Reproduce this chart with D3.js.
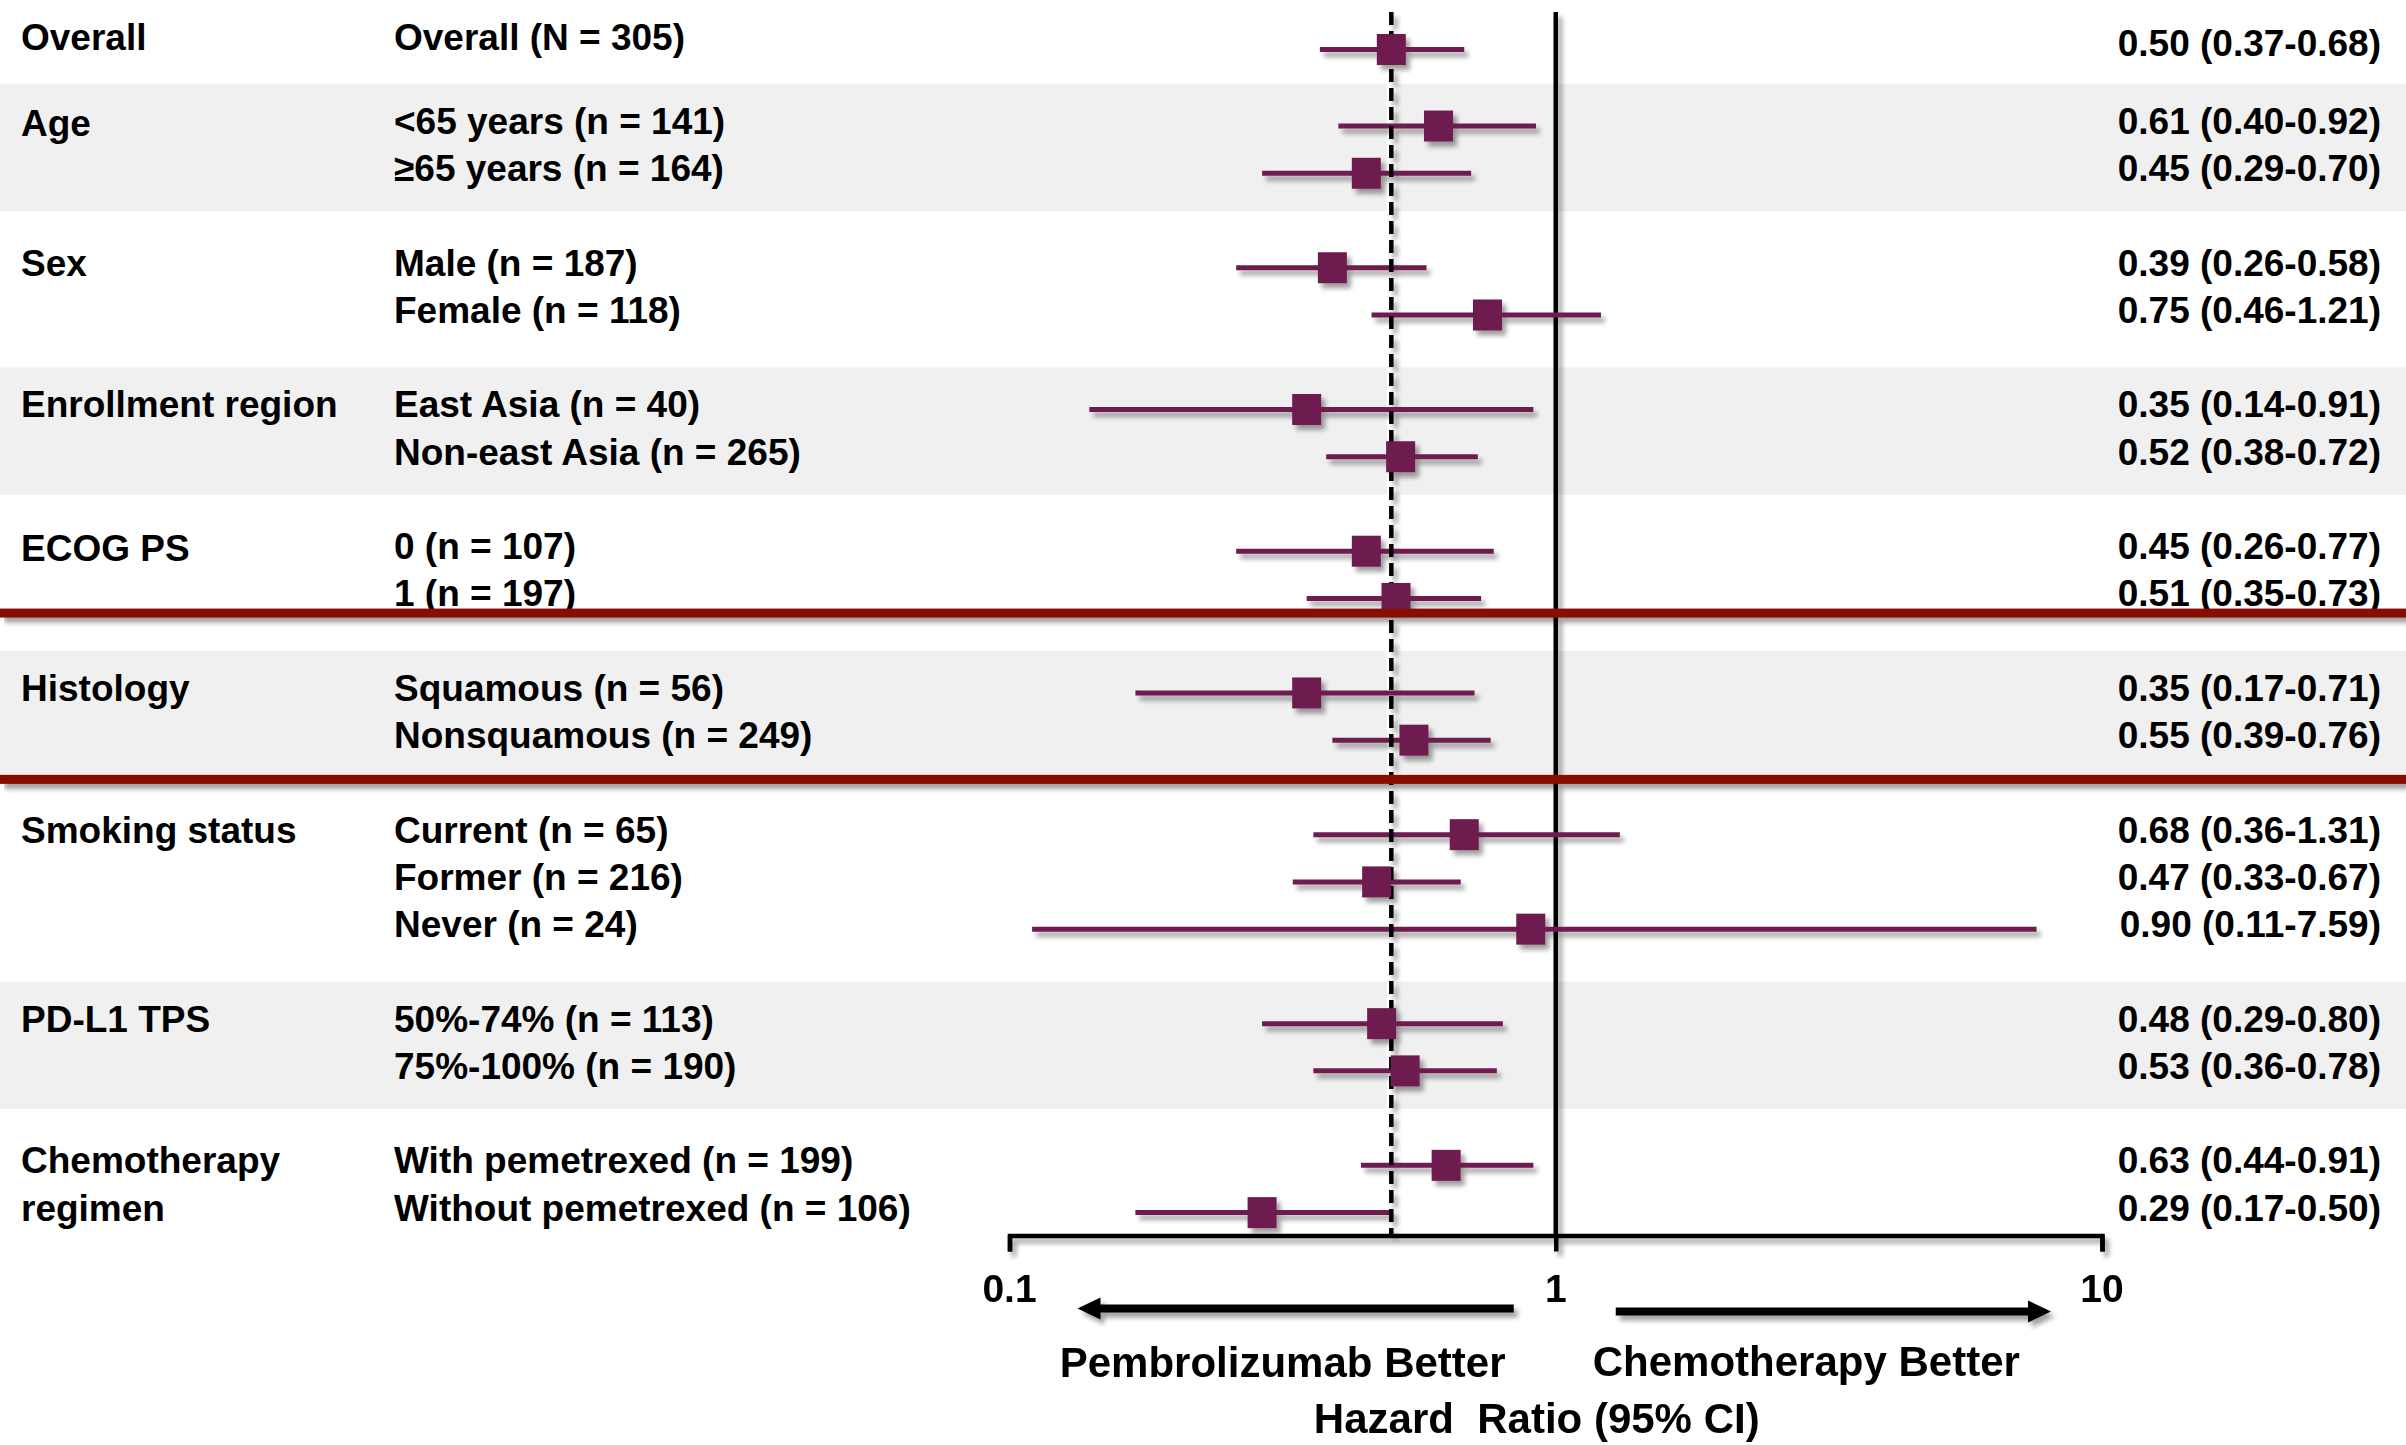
<!DOCTYPE html>
<html>
<head>
<meta charset="utf-8">
<script src="https://cdn.jsdelivr.net/npm/d3@7"></script>
<style>
  html, body { margin: 0; padding: 0; background: #fff; }
  svg { display: block; font-family: "Liberation Sans", Arial, sans-serif; font-weight: bold; }
</style>
</head>
<body>
<svg id="chart" width="2406" height="1445"></svg>
<script>
// Subgroup hazard ratios (95% CI), pembrolizumab vs chemotherapy
const groupLabels = [["Overall"], ["Age"], ["Sex"], ["Enrollment region"], ["ECOG PS"],
  ["Histology"], ["Smoking status"], ["PD-L1 TPS"], ["Chemotherapy", "regimen"]];
const subgroups = ["Overall (N = 305)", "<65 years (n = 141)", "\u226565 years (n = 164)",
  "Male (n = 187)", "Female (n = 118)", "East Asia (n = 40)", "Non-east Asia (n = 265)",
  "0 (n = 107)", "1 (n = 197)", "Squamous (n = 56)", "Nonsquamous (n = 249)",
  "Current (n = 65)", "Former (n = 216)", "Never (n = 24)", "50%-74% (n = 113)",
  "75%-100% (n = 190)", "With pemetrexed (n = 199)", "Without pemetrexed (n = 106)"];
const groupOf = [0, 1, 1, 2, 2, 3, 3, 4, 4, 5, 5, 6, 6, 6, 7, 7, 8, 8];
const hr    = [0.50, 0.61, 0.45, 0.39, 0.75, 0.35, 0.52, 0.45, 0.51, 0.35, 0.55, 0.68, 0.47, 0.90, 0.48, 0.53, 0.63, 0.29];
const lower = [0.37, 0.40, 0.29, 0.26, 0.46, 0.14, 0.38, 0.26, 0.35, 0.17, 0.39, 0.36, 0.33, 0.11, 0.29, 0.36, 0.44, 0.17];
const upper = [0.68, 0.92, 0.70, 0.58, 1.21, 0.91, 0.72, 0.77, 0.73, 0.71, 0.76, 1.31, 0.67, 7.59, 0.80, 0.78, 0.91, 0.50];
const xTicks = [0.1, 1, 10];
const shadedGroups = [1, 3, 5, 7];
const highlightedGroup = 5;

const W = 2406, H = 1445;
const PURPLE = "#6e1d4f", RED = "#861000", BAND = "#f0f0f0";
const fmt = d3.format(".2f");

const rows = subgroups.map((label, i) => ({
  label, group: groupOf[i], hr: hr[i], lo: lower[i], hi: upper[i],
  // one blank slot between groups, a shorter gap after the overall row
  slot: i + (groupOf[i] === 0 ? 0 : 0.62 + groupOf[i] - 1)
}));

const x = d3.scaleLog().domain([0.1, 10]).range([1009.5, 2102]);
const y = d3.scaleLinear().domain([0, 24.62]).range([49.5, 1212.6]);
const axisY = 1235.5;

const svg = d3.select("#chart");

// drop shadow used by the plotted marks
const defs = svg.append("defs");
const f = defs.append("filter").attr("id", "shadow")
  .attr("filterUnits", "userSpaceOnUse").attr("x", 0).attr("y", 0).attr("width", W).attr("height", H);
f.append("feGaussianBlur").attr("in", "SourceAlpha").attr("stdDeviation", 2.6).attr("result", "b");
f.append("feOffset").attr("in", "b").attr("dx", 4).attr("dy", 5).attr("result", "o");
f.append("feComponentTransfer").attr("in", "o").attr("result", "s")
  .append("feFuncA").attr("type", "linear").attr("slope", 0.38);
const m = f.append("feMerge");
m.append("feMergeNode").attr("in", "s");
m.append("feMergeNode").attr("in", "SourceGraphic");

// alternating group bands
const groupRows = d3.group(rows, d => d.group);
svg.append("g").selectAll("rect")
  .data(shadedGroups.map(g => groupRows.get(g)))
  .join("rect")
  .attr("x", 0).attr("width", W)
  .attr("y", d => y(d[0].slot) - 42)
  .attr("height", d => y(d[d.length - 1].slot) + 38 - (y(d[0].slot) - 42))
  .attr("fill", BAND);

// text columns
const labelBase = d => y(d.slot) + (d.group === 0 ? 0 : 8);
const valueBase = d => y(d.slot) + (d.group === 0 ? 6 : 8);
const txt = svg.append("g").attr("font-size", 37).attr("fill", "#000");

groupLabels.forEach((lines, g) => {
  const gr = groupRows.get(g);
  lines.forEach((line, k) => {
    txt.append("text").attr("x", 21)
      .attr("y", labelBase(gr[Math.min(k, gr.length - 1)]) + (g === 1 || g === 4 ? 2 : 0))
      .text(line);
  });
});

txt.selectAll("text.sub").data(rows).join("text").attr("class", "sub")
  .attr("x", 394).attr("y", labelBase).text(d => d.label);

txt.selectAll("text.val").data(rows).join("text").attr("class", "val")
  .attr("x", 2381).attr("y", valueBase).attr("text-anchor", "end")
  .text(d => `${fmt(d.hr)} (${fmt(d.lo)}-${fmt(d.hi)})`);

const lineTop = y(0) - 37.5;

// light halo behind the dashed overall line
svg.append("line")
  .attr("x1", x(hr[0])).attr("x2", x(hr[0]))
  .attr("y1", lineTop).attr("y2", axisY)
  .attr("stroke", "#fff").attr("stroke-width", 9);

const plot = svg.append("g").attr("filter", "url(#shadow)");

// line of no effect
plot.append("line")
  .attr("x1", x(1)).attr("x2", x(1)).attr("y1", lineTop).attr("y2", axisY)
  .attr("stroke", "#000").attr("stroke-width", 4.5);

// confidence intervals
plot.append("g").selectAll("line").data(rows).join("line")
  .attr("x1", d => x(d.lo)).attr("x2", d => x(d.hi))
  .attr("y1", d => y(d.slot)).attr("y2", d => y(d.slot))
  .attr("stroke", PURPLE).attr("stroke-width", 5);

// overall hazard ratio reference
plot.append("line")
  .attr("x1", x(hr[0])).attr("x2", x(hr[0])).attr("y1", lineTop).attr("y2", axisY)
  .attr("stroke", "#000").attr("stroke-width", 4.5).attr("stroke-dasharray", "13,6");

// point estimates
const sqW = 29, sqH = 31;
plot.append("g").selectAll("rect").data(rows).join("rect")
  .attr("x", d => x(d.hr) - sqW / 2).attr("y", d => y(d.slot) - sqH / 2)
  .attr("width", sqW).attr("height", sqH).attr("fill", PURPLE);

// x axis
const axis = plot.append("g").attr("transform", `translate(0,${axisY})`)
  .call(d3.axisBottom(x).tickValues(xTicks).tickSize(16).tickSizeOuter(16)
    .tickFormat(d => String(d)));
axis.select(".domain").attr("stroke", "#000").attr("stroke-width", 4.5).attr("fill", "none");
axis.selectAll(".tick line").attr("stroke", "#000").attr("stroke-width", 4.5);
axis.selectAll(".tick text").remove();

// tick labels, unshadowed
svg.append("g").selectAll("text").data(xTicks).join("text")
  .attr("x", d => x(d)).attr("y", axisY + 66.5).attr("text-anchor", "middle")
  .attr("font-size", 39).attr("fill", "#000").text(d => String(d));

// direction arrows
function arrow(g, x0, x1, yy) {
  const dir = Math.sign(x1 - x0), head = 23, half = 11;
  g.append("line").attr("x1", x0).attr("x2", x1 - dir * head + dir * 1)
    .attr("y1", yy).attr("y2", yy).attr("stroke", "#000").attr("stroke-width", 8);
  g.append("path")
    .attr("d", `M${x1},${yy}L${x1 - dir * head},${yy - half}L${x1 - dir * head},${yy + half}Z`)
    .attr("fill", "#000");
}
arrow(plot, x(1) - 42, x(0.1) + 68, 1308.5);
arrow(plot, x(1) + 60, x(10) - 51, 1311.5);

// separators around the histology group
const hRows = groupRows.get(highlightedGroup);
const prevRows = groupRows.get(highlightedGroup - 1);
const sepY = [y(prevRows[prevRows.length - 1].slot + 0.31), y(hRows[hRows.length - 1].slot + 0.83)];
plot.append("g").selectAll("rect").data(sepY).join("rect")
  .attr("x", 0).attr("width", W).attr("y", d => d - 4.5).attr("height", 9).attr("fill", RED);

// axis captions
const cap = svg.append("g").attr("font-size", 42).attr("fill", "#000");
cap.append("text").attr("x", (x(0.1) + x(1)) / 2).attr("y", 1377).attr("text-anchor", "middle")
  .text("Pembrolizumab Better");
cap.append("text").attr("x", x(1) + 37).attr("y", 1376)
  .text("Chemotherapy Better");
cap.append("text").attr("x", x(1) - 19).attr("y", 1433).attr("text-anchor", "middle")
  .text("Hazard\u00a0 Ratio (95% CI)");
</script>
</body>
</html>
